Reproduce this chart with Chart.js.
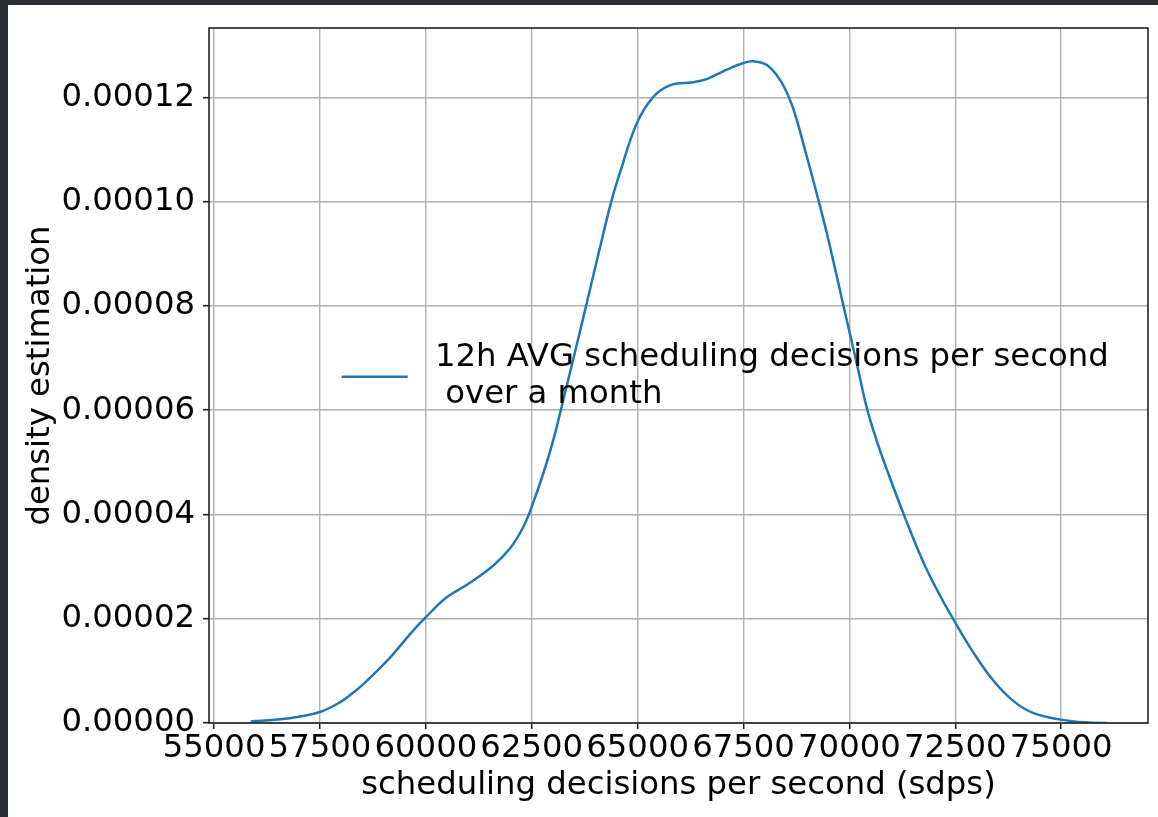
<!DOCTYPE html>
<html>
<head>
<meta charset="utf-8">
<script src="https://cdn.jsdelivr.net/npm/chart.js@4/dist/chart.umd.min.js"></script>
<style>
  html, body { margin: 0; padding: 0; background: #2b2e34; width: 1158px; height: 817px; overflow: hidden; }
  #wrap { position: absolute; left: 8px; top: 5px; width: 1150px; height: 812px; background: #ffffff; }
  canvas { display: block; }
</style>
</head>
<body>
<div id="wrap"><canvas id="c" width="1150" height="812"></canvas></div>
<script>
// ---- data ----
const sdps = [55865, 56573, 57000, 57500, 57979, 58250, 58530, 59160, 59632, 60000, 60493, 61043, 61594, 61988, 62302, 62500, 62774, 63010, 63246, 63680, 64152, 64388, 64585, 64979, 65371, 65765, 66316, 66632, 66870, 67104, 67500, 67736, 68052, 68366, 68602, 68760, 68996, 69311, 69507, 69860, 70000, 70200, 70413, 70650, 70885, 71318, 71748, 72142, 72504, 72929, 73402, 73874, 74346, 75000, 75606, 76079];
const density = [0.0000003, 0.0000007, 0.0000012, 0.0000021, 0.000004, 0.0000056, 0.0000075, 0.0000126, 0.0000171, 0.0000203, 0.0000241, 0.0000269, 0.0000302, 0.0000335, 0.0000376, 0.0000415, 0.0000479, 0.0000543, 0.000062, 0.0000765, 0.0000926, 0.0001003, 0.0001056, 0.000115, 0.0001201, 0.0001223, 0.0001229, 0.0001235, 0.0001244, 0.0001253, 0.0001266, 0.0001269, 0.0001262, 0.0001233, 0.0001194, 0.0001156, 0.0001086, 0.000099, 0.0000926, 0.00008, 0.0000751, 0.000068, 0.0000604, 0.000054, 0.0000486, 0.0000393, 0.0000308, 0.0000244, 0.0000192, 0.0000135, 0.0000081, 0.0000042, 0.0000019, 0.00000065, 0.0000001, 0];
const xTicks = [55000, 57500, 60000, 62500, 65000, 67500, 70000, 72500, 75000];
const yTicks = [0, 0.00002, 0.00004, 0.00006, 0.00008, 0.0001, 0.00012];
const seriesLabel = "12h AVG scheduling decisions per second\n over a month";
const xTitle = "scheduling decisions per second (sdps)";
const yTitle = "density estimation";

const FONT = "'DejaVu Sans', 'Liberation Sans', sans-serif";
const FSIZE = 32.3;
const LINE_COLOR = '#1f77b4';

const framePlugin = {
  id: 'frameAndLegend',
  afterDraw(chart) {
    const ctx = chart.ctx;
    const a = chart.chartArea;
    ctx.save();
    ctx.strokeStyle = '#222222';
    ctx.lineWidth = 1.6;
    ctx.strokeRect(a.left, a.top, a.right - a.left, a.bottom - a.top);
    const ds = chart.data.datasets[0];
    const lx = a.left + 132.7, ly = a.top + 348.7;
    ctx.strokeStyle = ds.borderColor;
    ctx.lineWidth = ds.borderWidth;
    ctx.beginPath();
    ctx.moveTo(lx, ly);
    ctx.lineTo(lx + 66, ly);
    ctx.stroke();
    ctx.fillStyle = '#000000';
    ctx.font = FSIZE + 'px ' + FONT;
    ctx.textAlign = 'left';
    ctx.textBaseline = 'alphabetic';
    const lines = ds.label.split('\n');
    lines.forEach((t, i) => ctx.fillText(t, a.left + 226, a.top + 338 + i * 36.7));
    ctx.restore();
  }
};

new Chart(document.getElementById('c'), {
  type: 'line',
  data: {
    datasets: [{
      label: seriesLabel,
      data: sdps.map((x, i) => ({ x: x, y: density[i] })),
      borderColor: LINE_COLOR,
      backgroundColor: LINE_COLOR,
      borderWidth: 2.5,
      pointRadius: 0,
      fill: false,
      tension: 0.4
    }]
  },
  options: {
    responsive: false,
    animation: false,
    devicePixelRatio: 1,
    layout: { padding: { left: 0, top: 23, right: 10, bottom: 0 } },
    plugins: { legend: { display: false }, tooltip: { enabled: false } },
    scales: {
      x: {
        type: 'linear',
        min: 54880,
        max: 77050,
        afterBuildTicks: s => { s.ticks = xTicks.map(v => ({ value: v })); },
        afterFit: s => { s.height = 94; s.paddingLeft = 0; s.paddingRight = 0; },
        ticks: {
          autoSkip: false, maxRotation: 0, minRotation: 0, padding: 0,
          color: '#000', font: { family: FONT, size: FSIZE },
          callback: v => String(v)
        },
        grid: { color: '#b0b0b0', lineWidth: 1.4, tickColor: '#222', tickLength: 6, tickWidth: 1.6 },
        border: { display: false },
        title: { display: true, text: xTitle, color: '#000', font: { family: FONT, size: FSIZE }, padding: { top: 0, bottom: 12 } }
      },
      y: {
        type: 'linear',
        min: 0,
        max: 0.0001333,
        afterBuildTicks: s => { s.ticks = yTicks.map(v => ({ value: v })); },
        afterFit: s => { s.width = 201; s.paddingTop = 0; s.paddingBottom = 0; },
        ticks: {
          padding: 8, color: '#000', font: { family: FONT, size: FSIZE },
          callback: v => Number(v).toFixed(5)
        },
        grid: { color: '#b0b0b0', lineWidth: 1.4, tickColor: '#222', tickLength: 6, tickWidth: 1.6 },
        border: { display: false },
        title: { display: true, text: yTitle, color: '#000', font: { family: FONT, size: FSIZE }, padding: { top: 13, bottom: 0 } }
      }
    }
  },
  plugins: [framePlugin]
});
</script>
</body>
</html>
